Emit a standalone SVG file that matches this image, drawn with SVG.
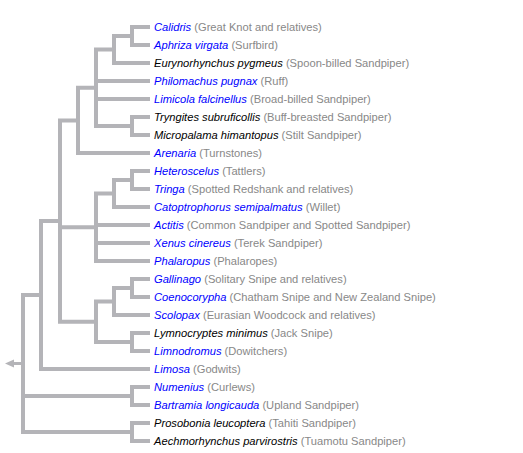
<svg xmlns="http://www.w3.org/2000/svg" width="523" height="453" viewBox="0 0 523 453">
<style>
.br{fill:none;stroke:#b4b4b8;stroke-width:4;stroke-linecap:square}
text{font-family:"Liberation Sans",Arial,sans-serif;font-size:11.15px}
.n{font-style:italic}
.b{fill:#0000ff}
.k{fill:#000}
.g{fill:#888}
</style>
<rect width="523" height="453" fill="#fff"/>
<g id="connectors">
<path class="br" d="M132,27V45M132,27H148M132,45H148"/>
<path class="br" d="M114,36V63M114,36H132M114,63H148"/>
<path class="br" d="M132,117V135M132,117H148M132,135H148"/>
<path class="br" d="M96,49.5V126M96,49.5H114M96,81H148M96,99H148M96,126H132"/>
<path class="br" d="M78,87.75V153M78,87.75H96M78,153H148"/>
<path class="br" d="M132,171V189M132,171H148M132,189H148"/>
<path class="br" d="M114,180V207M114,180H132M114,207H148"/>
<path class="br" d="M96,193.5V261M96,193.5H114M96,225H148M96,243H148M96,261H148"/>
<path class="br" d="M132,279V297M132,279H148M132,297H148"/>
<path class="br" d="M114,288V315M114,288H132M114,315H148"/>
<path class="br" d="M132,333V351M132,333H148M132,351H148"/>
<path class="br" d="M96,301.5V342M96,301.5H114M96,342H132"/>
<path class="br" d="M60,120.4V321.75M60,120.4H78M60,227.25H96M60,321.75H96"/>
<path class="br" d="M41,221V369M41,221H60M41,369H148"/>
<path class="br" d="M132,387V405M132,387H148M132,405H148"/>
<path class="br" d="M132,423V441M132,423H148M132,441H148"/>
<path class="br" d="M23,295V432M23,295H41M23,396H132M23,432H132"/>
<path d="M14,363.5H22" fill="none" stroke="#b4b4b8" stroke-width="3"/>
<polygon points="5,363.5 14,359.5 14,367.5" fill="#b4b4b8"/>
</g>
<g id="calidris"><text x="154" y="31"><tspan class="n b">Calidris</tspan><tspan class="g"> (Great Knot and relatives)</tspan></text></g>
<g id="aphriza"><text x="154" y="49"><tspan class="n b">Aphriza virgata</tspan><tspan class="g"> (Surfbird)</tspan></text></g>
<g id="eurynorhynchus"><text x="154" y="67"><tspan class="n k">Eurynorhynchus pygmeus</tspan><tspan class="g"> (Spoon-billed Sandpiper)</tspan></text></g>
<g id="philomachus"><text x="154" y="85"><tspan class="n b">Philomachus pugnax</tspan><tspan class="g"> (Ruff)</tspan></text></g>
<g id="limicola"><text x="154" y="103"><tspan class="n b">Limicola falcinellus</tspan><tspan class="g"> (Broad-billed Sandpiper)</tspan></text></g>
<g id="tryngites"><text x="154" y="121"><tspan class="n k">Tryngites subruficollis</tspan><tspan class="g"> (Buff-breasted Sandpiper)</tspan></text></g>
<g id="micropalama"><text x="154" y="139"><tspan class="n k">Micropalama himantopus</tspan><tspan class="g"> (Stilt Sandpiper)</tspan></text></g>
<g id="arenaria"><text x="154" y="157"><tspan class="n b">Arenaria</tspan><tspan class="g"> (Turnstones)</tspan></text></g>
<g id="heteroscelus"><text x="154" y="175"><tspan class="n b">Heteroscelus</tspan><tspan class="g"> (Tattlers)</tspan></text></g>
<g id="tringa"><text x="154" y="193"><tspan class="n b">Tringa</tspan><tspan class="g"> (Spotted Redshank and relatives)</tspan></text></g>
<g id="catoptrophorus"><text x="154" y="211"><tspan class="n b">Catoptrophorus semipalmatus</tspan><tspan class="g"> (Willet)</tspan></text></g>
<g id="actitis"><text x="154" y="229"><tspan class="n b">Actitis</tspan><tspan class="g"> (Common Sandpiper and Spotted Sandpiper)</tspan></text></g>
<g id="xenus"><text x="154" y="247"><tspan class="n b">Xenus cinereus</tspan><tspan class="g"> (Terek Sandpiper)</tspan></text></g>
<g id="phalaropus"><text x="154" y="265"><tspan class="n b">Phalaropus</tspan><tspan class="g"> (Phalaropes)</tspan></text></g>
<g id="gallinago"><text x="154" y="283"><tspan class="n b">Gallinago</tspan><tspan class="g"> (Solitary Snipe and relatives)</tspan></text></g>
<g id="coenocorypha"><text x="154" y="301"><tspan class="n b">Coenocorypha</tspan><tspan class="g"> (Chatham Snipe and New Zealand Snipe)</tspan></text></g>
<g id="scolopax"><text x="154" y="319"><tspan class="n b">Scolopax</tspan><tspan class="g"> (Eurasian Woodcock and relatives)</tspan></text></g>
<g id="lymnocryptes"><text x="154" y="337"><tspan class="n k">Lymnocryptes minimus</tspan><tspan class="g"> (Jack Snipe)</tspan></text></g>
<g id="limnodromus"><text x="154" y="355"><tspan class="n b">Limnodromus</tspan><tspan class="g"> (Dowitchers)</tspan></text></g>
<g id="limosa"><text x="154" y="373"><tspan class="n b">Limosa</tspan><tspan class="g"> (Godwits)</tspan></text></g>
<g id="numenius"><text x="154" y="391"><tspan class="n b">Numenius</tspan><tspan class="g"> (Curlews)</tspan></text></g>
<g id="bartramia"><text x="154" y="409"><tspan class="n b">Bartramia longicauda</tspan><tspan class="g"> (Upland Sandpiper)</tspan></text></g>
<g id="prosobonia"><text x="154" y="427"><tspan class="n k">Prosobonia leucoptera</tspan><tspan class="g"> (Tahiti Sandpiper)</tspan></text></g>
<g id="aechmorhynchus"><text x="154" y="445"><tspan class="n k">Aechmorhynchus parvirostris</tspan><tspan class="g"> (Tuamotu Sandpiper)</tspan></text></g>
</svg>
